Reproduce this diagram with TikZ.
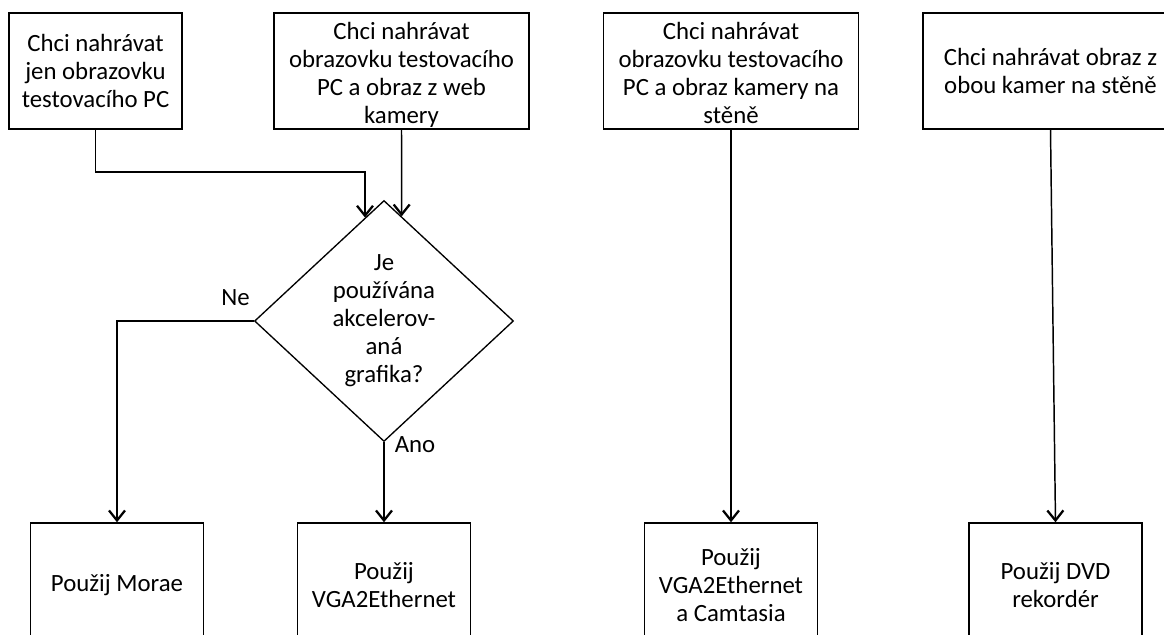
\documentclass[tikz,border=0pt]{standalone}
\usepackage{fontspec}
\setmainfont{Carlito}
\usetikzlibrary{shapes.geometric,arrows.meta,calc}

\tikzset{
  box/.style={draw, line width=1.1pt, minimum height=87pt, align=center, inner sep=0.75pt, font=\fontsize{18.6}{21}\selectfont},
  endbox/.style={box, minimum width=129.75pt, minimum height=93pt},
  boxtext/.style={align=center, inner sep=0.75pt, font=\fontsize{18.6}{21}\selectfont},
  decision/.style={diamond, draw, line width=1pt, minimum width=194.25pt, minimum height=180.75pt, inner sep=0pt, align=center, font=\fontsize{18.6}{21}\selectfont},
  flow/.style={line width=1.1pt, -{Straight Barb[length=7.5pt,width=12pt,line width=1.7pt]}},
  branch/.style={line width=1.1pt}
}

\begin{document}
\begin{tikzpicture}[x=0.75pt,y=0.75pt,yscale=-1,xscale=1]
\fill[white] (0,0) rectangle (1164,635);
\clip (0,0) rectangle (1164,635);

% Shape: Rectangle
\node[box, minimum width=129.75pt] (onlypc) at (95.5,71) {Chci nahrávat\\jen obrazovku\\testovacího PC};
% Shape: Rectangle
\node[box, minimum width=191.25pt] (webcam) at (401.5,71) {};
\node[boxtext] (webcamtxt) at (401.5,75) {Chci nahrávat\\obrazovku testovacího\\PC a obraz z web\\kamery};
% Shape: Rectangle
\node[box, minimum width=191.25pt] (wallcam) at (731,71) {};
\node[boxtext] (wallcamtxt) at (731,73) {Chci nahrávat\\obrazovku testovacího\\PC a obraz kamery na\\stěně};
% Shape: Rectangle
\node[box, minimum width=191.25pt] (bothcams) at (1050.5,71) {Chci nahrávat obraz z\\obou kamer na stěně};

% Shape: Diamond
\node[decision] (dec) at (384,321) {Je\\používána\\akcelerov-\\aná\\grafika?};

% Shape: Rectangle
\node[endbox] (morae) at (117,585) {Použij Morae};
% Shape: Rectangle
\node[endbox] (vga) at (384,585) {Použij\\VGA2Ethernet};
% Shape: Rectangle
\node[endbox] (camtasia) at (731,585) {Použij\\VGA2Ethernet\\a Camtasia};
% Shape: Rectangle
\node[endbox] (dvd) at (1055.5,585) {Použij DVD\\rekordér};

%Straight Lines
\coordinate (bend) at (onlypc.south |- 0,172);
\draw[flow] (onlypc.south) -- (bend) -| ($(dec.north)!0.146!(dec.west)$);
\draw[flow] (webcam.south) -- ($(dec.north)!0.136!(dec.east)$);
\draw[flow] (dec.west) -| (morae.north);
\draw[flow] (dec.south) -- (vga.north);
\draw[flow] (wallcam.south) -- (camtasia.north);
\draw[flow] (bothcams.south) -- (dvd.north);

% Text Node
\node[boxtext] (lblno) at (235.5,298) {Ne};
% Text Node
\node[boxtext] (lblyes) at (415,445) {Ano};

\end{tikzpicture}
\end{document}
